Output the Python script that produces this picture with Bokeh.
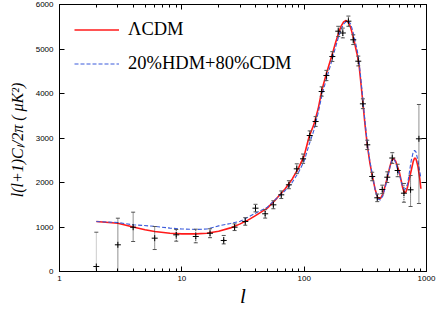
from bokeh.plotting import figure
from bokeh.models import (LogAxis, LinearAxis, FixedTicker, Legend, LegendItem,
                          Range1d, NumeralTickFormatter)
from bokeh.embed import file_html
from bokeh.resources import INLINE

# ---- model curves ----
ell_lcdm = [2, 3, 4, 5, 6, 8, 10, 13, 16, 20, 25, 30, 35, 40, 50, 60, 70, 80, 90,
            100, 110, 120, 130, 140, 150, 160, 170, 180, 190, 200, 210, 220, 230,
            240, 250, 260, 270, 280, 290, 300, 315, 330, 345, 360, 380, 400, 420,
            440, 460, 480, 500, 520, 540, 560, 580, 600, 620, 640, 660, 680, 700,
            720, 750, 780, 800, 820, 850, 880, 900]
cl_lcdm = [1124, 1085, 1000, 940, 900, 860, 845, 845, 860, 905, 980, 1070, 1160,
           1255, 1425, 1650, 1860, 2080, 2330, 2600, 3040, 3300, 3650, 4090, 4390,
           4650, 4890, 5130, 5340, 5510, 5610, 5640, 5600, 5480, 5300, 5100, 4900,
           4680, 4270, 3870, 3270, 2790, 2430, 2160, 1850, 1650, 1640, 1740, 1930,
           2130, 2340, 2500, 2535, 2480, 2350, 2230, 2050, 1870, 1765, 1790, 1900,
           2060, 2270, 2480, 2550, 2530, 2370, 2100, 1860]

ell_hdm = [2, 3, 4, 6, 8, 10, 13, 16, 20, 25, 30, 40, 50, 60, 70, 80, 90, 100,
           110, 120, 130, 140, 150, 160, 170, 180, 190, 200, 210, 220, 230, 240,
           250, 260, 270, 280, 290, 300, 315, 330, 345, 360, 380, 400, 420, 440,
           460, 480, 500, 520, 540, 560, 580, 600, 620, 640, 650, 670, 700, 720,
           750, 780, 800, 820, 850, 880, 900]
cl_hdm = [1124, 1100, 1050, 1015, 975, 955, 945, 955, 1025, 1080, 1130, 1310,
          1445, 1655, 1820, 2005, 2230, 2480, 2860, 3170, 3560, 3970, 4270, 4530,
          4780, 5030, 5250, 5430, 5560, 5615, 5630, 5560, 5400, 5200, 5000, 4760,
          4350, 3950, 3340, 2830, 2470, 2195, 1840, 1630, 1610, 1700, 1890, 2100,
          2320, 2490, 2530, 2450, 2290, 2190, 2030, 1900, 1860, 1850, 1960, 2180,
          2490, 2690, 2720, 2690, 2500, 2250, 2100]

# ---- data points with error bars ----
data_l = [2, 3, 4, 6, 9, 13, 17, 22, 27, 33, 40, 48, 56, 65, 75, 87, 98, 111,
          124, 139, 152, 170, 190, 207, 230, 252, 277, 302, 328, 360, 396, 435,
          478, 525, 581, 654, 741, 867]
data_cl = [112, 600, 995, 749, 824, 787, 860, 697, 996, 1124, 1423, 1297, 1498,
           1723, 1948, 2307, 2532, 3056, 3371, 4045, 4404, 4831, 5400, 5360, 5625,
           5207, 4726, 3768, 2847, 2135, 1656, 1843, 2119, 2550, 2270, 1760, 1836,
           2982]
data_lo = [0, 0, 674, 494, 681, 645, 760, 620, 920, 1040, 1340, 1200, 1410, 1640,
           1860, 2200, 2430, 2950, 3260, 3940, 4290, 4720, 5280, 5250, 5510, 5100,
           4620, 3660, 2740, 2040, 1570, 1750, 2000, 2430, 2130, 1557, 1461, 1528]
data_hi = [883, 1198, 1333, 1011, 944, 951, 960, 810, 1070, 1210, 1510, 1390,
           1590, 1810, 2040, 2420, 2640, 3160, 3480, 4150, 4520, 4940, 5510, 5470,
           5740, 5320, 4840, 3880, 2950, 2230, 1740, 1940, 2240, 2670, 2410, 1978,
           2157, 3753]

x_major = [1, 10, 100, 1000]
x_minor = [2, 3, 4, 5, 6, 7, 8, 9, 20, 30, 40, 50, 60, 70, 80, 90,
           200, 300, 400, 500, 600, 700, 800, 900]
y_ticks = [0, 1000, 2000, 3000, 4000, 5000, 6000]

p = figure(width=436, height=312, x_axis_type="log",
           x_range=Range1d(1, 1000), y_range=Range1d(0, 6000),
           output_backend="svg", toolbar_location=None,
           min_border_left=59, min_border_right=10, min_border_top=4,
           min_border_bottom=41)
p.grid.visible = False
p.outline_line_color = "black"
p.background_fill_color = "white"
p.border_fill_color = "white"

xa = p.xaxis[0]
ya = p.yaxis[0]
xa.ticker = FixedTicker(ticks=x_major, minor_ticks=x_minor)
xa.formatter = NumeralTickFormatter(format="0")
ya.ticker = FixedTicker(ticks=y_ticks)
ya.minor_tick_line_color = None

for ax in (xa, ya):
    ax.major_tick_in = 5
    ax.major_tick_out = 0
    ax.minor_tick_in = 3
    ax.minor_tick_out = 0
    ax.axis_line_color = "black"
    ax.major_label_text_font = "Liberation Sans"
    ax.major_label_text_font_size = "8px"
    ax.major_label_text_color = "black"
    ax.axis_label_text_font = "Liberation Serif"
    ax.axis_label_text_font_style = "italic"
    ax.axis_label_text_color = "black"

xa.major_label_standoff = 4
xa.axis_label = "l"
xa.axis_label_text_font_size = "21px"
xa.axis_label_standoff = 0

ya.major_label_standoff = 6
ya.axis_label = "l(l+1)C\u2097/2\u03c0  ( \u03bcK\u00b2)"
ya.axis_label_text_font_size = "16px"
ya.axis_label_standoff = 7

top = LogAxis(ticker=FixedTicker(ticks=x_major, minor_ticks=x_minor),
              major_label_text_font_size="1px", major_label_text_color=None,
              major_label_standoff=0,
              major_tick_in=5, major_tick_out=0, minor_tick_in=3, minor_tick_out=0,
              axis_line_color="black")
right = LinearAxis(ticker=FixedTicker(ticks=y_ticks),
                   major_label_text_font_size="1px", major_label_text_color=None,
                   major_label_standoff=0,
                   major_tick_in=5, major_tick_out=0, minor_tick_line_color=None,
                   axis_line_color="black")
p.add_layout(top, "above")
p.add_layout(right, "right")

# curves
red = p.line(ell_lcdm, cl_lcdm, line_color="#ff1a1a", line_width=1.6)
blue = p.line(ell_hdm, cl_hdm, line_color="#3b5bdb", line_width=1.1, line_dash="4 2")

# error bars
p.segment(x0=data_l[:1], y0=data_lo[:1], x1=data_l[:1], y1=data_hi[:1],
          line_color="#999999", line_width=1, line_dash="1 1")
p.segment(x0=data_l[1:], y0=data_lo[1:], x1=data_l[1:], y1=data_hi[1:],
          line_color="#222222", line_width=1, line_dash="1 1")
p.scatter(data_l, data_hi, marker="dash", size=4, line_color="#555555", line_width=1)
p.scatter(data_l, data_lo, marker="dash", size=4, line_color="#555555", line_width=1)
p.scatter(data_l, data_cl, marker="cross", size=6, line_color="black", line_width=1)

legend = Legend(items=[LegendItem(label="\u039bCDM", renderers=[red]),
                       LegendItem(label="20%HDM+80%CDM", renderers=[blue])],
                location="top_left", background_fill_alpha=0, border_line_color=None,
                label_text_font="Liberation Serif", label_text_font_size="18.5px",
                label_text_color="black",
                glyph_width=45, glyph_height=21, label_height=21, spacing=13,
                padding=0, margin=15, label_standoff=9)
p.add_layout(legend)

open("out.html", "w").write(file_html(p, INLINE))
